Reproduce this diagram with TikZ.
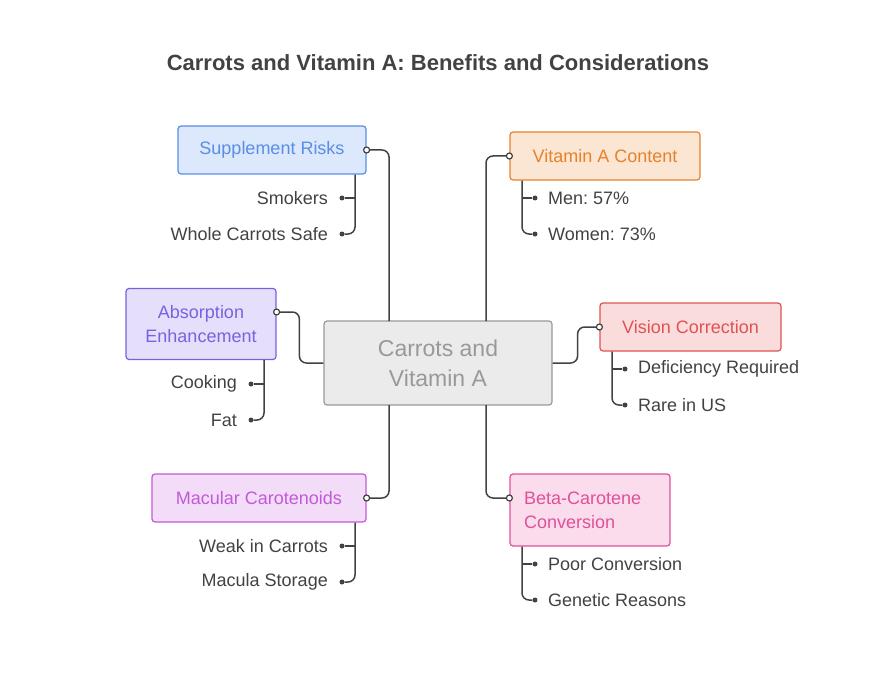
\documentclass[tikz,border=0pt]{standalone}
\usepackage{fontspec}
\setmainfont{Liberation Sans}
\frenchspacing
\usetikzlibrary{positioning,calc}
\definecolor{ink}{HTML}{424242}
\definecolor{bluefill}{HTML}{DCE8FB}\definecolor{bluestroke}{HTML}{5A8EE6}
\definecolor{orfill}{HTML}{FBE5D3}\definecolor{orstroke}{HTML}{E6822A}
\definecolor{pufill}{HTML}{E5DFFC}\definecolor{pustroke}{HTML}{7B61E0}
\definecolor{refill}{HTML}{FBDCDC}\definecolor{restroke}{HTML}{E05252}
\definecolor{mafill}{HTML}{F3DCF8}\definecolor{mastroke}{HTML}{C25AD8}
\definecolor{pifill}{HTML}{FADCEC}\definecolor{pistroke}{HTML}{E0509A}
\tikzset{
  topic/.style={draw=#1stroke, fill=#1fill, text=#1stroke, rounded corners=3pt, line width=1.2pt,
    font=\fontsize{18}{24}\selectfont, align=center, inner sep=0pt},
  leaf/.style={font=\fontsize{18}{22}\selectfont, text=ink, inner sep=0pt},
  conn/.style={draw=ink, line width=1.5pt, rounded corners=7pt},
  tip/.style={circle, draw=ink, fill=white, line width=1.2pt, inner sep=0pt, minimum size=6pt},
  dot/.style={circle, fill=ink, inner sep=0pt, minimum size=5pt},
}
\begin{document}
\begin{tikzpicture}[x=1pt,y=-1pt]
    \useasboundingbox (0,0) rectangle (876,690);
    \node[font=\bfseries\fontsize{22}{26}\selectfont, text=ink] (title) at (438,63) {Carrots and Vitamin A: Benefits and Considerations};

    % centre
    \node[draw=black!40, fill=black!8, text=black!40, rounded corners=3pt, line width=1.2pt,
      minimum width=228pt, minimum height=84pt, align=center, font=\fontsize{23}{30}\selectfont] (c) at (438,363) {Carrots and\\Vitamin A};

    % topics
    \node[topic=blue, minimum width=188pt, minimum height=48pt] (sr) at (272,150) {Supplement Risks};
    \node[topic=or, minimum width=190pt, minimum height=48pt] (va) at (605,156) {Vitamin A Content};
    \node[topic=pu, minimum width=150pt, minimum height=71pt] (ae) at (201,324) {Absorption\\Enhancement};
    \node[topic=re, minimum width=181pt, minimum height=48pt] (vc) at (690.5,327) {Vision Correction};
    \node[topic=ma, minimum width=214pt, minimum height=48pt] (mc) at (259,498) {Macular Carotenoids};
    \node[topic=pi, minimum width=160pt, minimum height=72pt, align=left, text width=132pt] (bc) at (590,510) {Beta-Carotene\\Conversion};

    % main connectors
    \coordinate (ctl) at (389,321); \coordinate (ctr) at (486,321);
    \coordinate (cbl) at (389,405); \coordinate (cbr) at (486,405);
    \coordinate (aep) at (ae.east |- 0,312);
    \coordinate (bcp) at (bc.west |- 0,498);
    \draw[conn] (ctl) |- (sr.east);
    \draw[conn] (ctr) |- (va.west);
    \draw[conn] (c.west) -- ++(-24,0) |- (aep);
    \draw[conn] (c.east) -- ++(25,0) |- (vc.west);
    \draw[conn] (cbl) |- (mc.east);
    \draw[conn] (cbr) |- (bcp);
    \foreach \n in {sr.east, va.west, aep, vc.west, mc.east, bcp}
      \node[tip] at (\n) {};

    % leaves, left side
    \foreach \p/\x/\ya/\yb/\ta/\tb in {sr/355/198/234/Smokers/Whole Carrots Safe,
        ae/264/384/420/Cooking/Fat, mc/355/546/582/Weak in Carrots/Macula Storage}{
      \node[dot] (d1) at (\x-13,\ya) {};
      \node[dot] (d2) at (\x-13,\yb) {};
      \node[leaf, anchor=east] at ($(d1)+(-14,0)$) {\ta};
      \node[leaf, anchor=east] at ($(d2)+(-14,0)$) {\tb};
      \draw[conn] (\p.south -| \x,0) |- (d2);
      \draw[conn, rounded corners=0pt] (\x,\ya) -- (d1);
    }
    % leaves, right side
    \foreach \p/\x/\ya/\yb/\ta/\tb in {va/522/198/234/Men: 57\%/Women: 73\%,
        vc/612/369/405/Deficiency Required/Rare in US, bc/522/564/600/Poor Conversion/Genetic Reasons}{
      \node[dot] (d1) at (\x+13,\ya) {};
      \node[dot] (d2) at (\x+13,\yb) {};
      \node[leaf, anchor=west] at ($(d1)+(13,0)$) {\ta};
      \node[leaf, anchor=west] at ($(d2)+(13,0)$) {\tb};
      \draw[conn] (\p.south -| \x,0) |- (d2);
      \draw[conn, rounded corners=0pt] (\x,\ya) -- (d1);
    }
\end{tikzpicture}
\end{document}
